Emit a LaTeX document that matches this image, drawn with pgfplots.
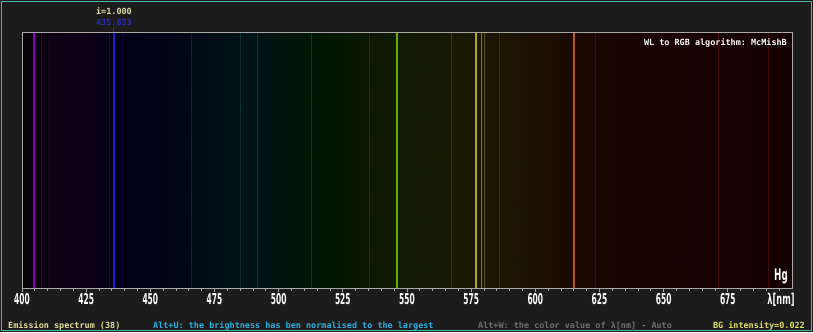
\documentclass[border=0pt]{standalone}
\usepackage{fontspec}
\setmainfont{DejaVu Sans}
\setmonofont{DejaVu Sans Mono}
\usepackage{graphicx}
\usepackage{pgfplots}
\pgfplotsset{compat=1.18}
\definecolor{bg}{HTML}{1C1C1C}
\definecolor{frame}{HTML}{4FB8A6}
\definecolor{axisgrey}{HTML}{A8A8A8}
\newcommand\tl[1]{\scalebox{0.5}[1]{\fontsize{15}{15}\selectfont\bfseries #1}}
\newcommand\mono{\ttfamily\bfseries\fontsize{8.5}{9}\selectfont}
\begin{document}
\begin{tikzpicture}[x=1bp,y=1bp]
\fill[bg] (0,0) rectangle (813,332);
\draw[frame, line width=1.5bp] (1.5,1.5) rectangle (811.5,330.5);
\begin{axis}[at={(22bp,44bp)}, anchor=south west, scale only axis,
  width=770bp, height=255bp,
  xmin=400, xmax=700, ymin=0, ymax=1,
  ytick=\empty, xtick pos=left,
  xtick={400,425,...,675},
  xticklabels={\tl{400},\tl{425},\tl{450},\tl{475},\tl{500},\tl{525},\tl{550},\tl{575},\tl{600},\tl{625},\tl{650},\tl{675}},
  minor xtick={405,410,...,695},
  tick align=outside, major tick length=4bp, minor tick length=2.5bp,
  axis on top,
  axis line style={color=axisgrey, line width=1bp},
  tick style={color=axisgrey, line width=0.8bp},
  xticklabel style={text=white, inner sep=1bp},
  colormap={spec}{rgb255(0pt)=(8,0,10); rgb255(10pt)=(13,0,18); rgb255(25pt)=(12,0,22); rgb255(40pt)=(2,0,22); rgb255(60pt)=(0,6,22); rgb255(75pt)=(0,14,22); rgb255(90pt)=(0,20,22); rgb255(105pt)=(0,22,10); rgb255(115pt)=(0,22,0); rgb255(130pt)=(8,24,0); rgb255(145pt)=(16,26,0); rgb255(160pt)=(20,24,0); rgb255(175pt)=(26,24,0); rgb255(190pt)=(28,20,0); rgb255(205pt)=(28,14,0); rgb255(220pt)=(28,7,0); rgb255(240pt)=(26,2,0); rgb255(260pt)=(24,0,0); rgb255(300pt)=(20,0,0)},
  point meta min=400, point meta max=700,
  clip=false,
]
\addplot[patch, patch type=rectangle, shader=interp, point meta=explicit]
  coordinates {(400,0) [400] (700,0) [700] (700,1) [700] (400,1) [400]};
% dim lines
\addplot[color={rgb,255:red,48;green,0;blue,74}, line width=1bp] coordinates {(407.78,0) (407.78,1)};
\addplot[color={rgb,255:red,32;green,0;blue,48}, line width=1bp] coordinates {(410.8,0) (410.8,1)};
\addplot[color={rgb,255:red,16;green,16;blue,80}, line width=1bp] coordinates {(433.9,0) (433.9,1)};
\addplot[color={rgb,255:red,8;green,8;blue,56}, line width=1bp] coordinates {(439.0,0) (439.0,1)};
\addplot[color={rgb,255:red,10;green,36;blue,50}, line width=1bp] coordinates {(465.9,0) (465.9,1)};
\addplot[color={rgb,255:red,10;green,50;blue,50}, line width=1bp] coordinates {(485.3,0) (485.3,1)};
\addplot[color={rgb,255:red,10;green,56;blue,56}, line width=1bp] coordinates {(491.6,0) (491.6,1)};
\addplot[color={rgb,255:red,12;green,60;blue,16}, line width=1bp] coordinates {(512.7,0) (512.7,1)};
\addplot[color={rgb,255:red,12;green,56;blue,12}, line width=1bp] coordinates {(535.4,0) (535.4,1)};
\addplot[color={rgb,255:red,48;green,64;blue,10}, line width=1bp] coordinates {(567.3,0) (567.3,1)};
\addplot[color={rgb,255:red,80;green,80;blue,16}, line width=1bp] coordinates {(580.1,0) (580.1,1)};
\addplot[color={rgb,255:red,48;green,48;blue,8}, line width=1bp] coordinates {(586.0,0) (586.0,1)};
\addplot[color={rgb,255:red,48;green,24;blue,8}, line width=1bp] coordinates {(623.4,0) (623.4,1)};
\addplot[color={rgb,255:red,70;green,8;blue,8}, line width=1bp] coordinates {(671.3,0) (671.3,1)};
\addplot[color={rgb,255:red,62;green,8;blue,8}, line width=1bp] coordinates {(690.7,0) (690.7,1)};
% bright lines
\addplot[color={rgb,255:red,130;green,0;blue,190}, line width=1.8bp] coordinates {(404.66,0) (404.66,1)};
\addplot[color={rgb,255:red,32;green,28;blue,220}, line width=2bp] coordinates {(435.83,0) (435.83,1)};
\addplot[color={rgb,255:red,100;green,170;blue,16}, line width=1.8bp] coordinates {(546.07,0) (546.07,1)};
\addplot[color={rgb,255:red,170;green,170;blue,24}, line width=1.8bp] coordinates {(576.96,0) (576.96,1)};
\addplot[color={rgb,255:red,118;green,118;blue,20}, line width=1.4bp] coordinates {(579.07,0) (579.07,1)};
\addplot[color={rgb,255:red,180;green,92;blue,30}, line width=1.8bp] coordinates {(614.95,0) (614.95,1)};
% annotations
\draw[color={rgb,255:red,36;green,32;blue,230}, line width=1bp] (axis cs:435.83,1) -- ([yshift=5bp]axis cs:435.83,1);
\node[anchor=base, text={rgb,255:red,40;green,40;blue,200}, inner sep=0pt] at ([yshift=7bp]axis cs:435.83,1) {\mono 435.833};
\node[anchor=base, text={rgb,255:red,220;green,220;blue,170}, inner sep=0pt] at ([yshift=18bp]axis cs:435.83,1) {\mono i=1.000};
\node[anchor=north east, text=white, inner sep=0pt] at ([xshift=-5bp,yshift=-5bp]axis cs:700,1) {\mono WL to RGB algorithm: McMishB};
\node[anchor=south east, text=white, inner sep=0pt] at ([xshift=-4bp,yshift=4bp]axis cs:700,0) {\scalebox{0.55}[1]{\fontsize{16}{16}\selectfont\bfseries Hg}};
\node[anchor=north, text=white, inner sep=1bp] at ([xshift=-11bp,yshift=-4bp]axis cs:700,0) {\scalebox{0.55}[1]{\fontsize{15}{15}\selectfont\bfseries λ[nm]}};
\end{axis}
\node[anchor=base west, text={rgb,255:red,224;green,224;blue,150}, inner sep=0pt] at (8,4) {\mono Emission spectrum (38)};
\node[anchor=base west, text={rgb,255:red,40;green,176;blue,224}, inner sep=0pt] at (153,4) {\mono Alt+U: the brightness has ben normalised to the largest};
\node[anchor=base west, text={rgb,255:red,110;green,110;blue,110}, inner sep=0pt] at (478,4) {\mono Alt+W: the color value of λ[nm] - Auto};
\node[anchor=base east, text={rgb,255:red,224;green,224;blue,96}, inner sep=0pt] at (805,4) {\mono BG intensity=0.022};
\end{tikzpicture}
\end{document}
